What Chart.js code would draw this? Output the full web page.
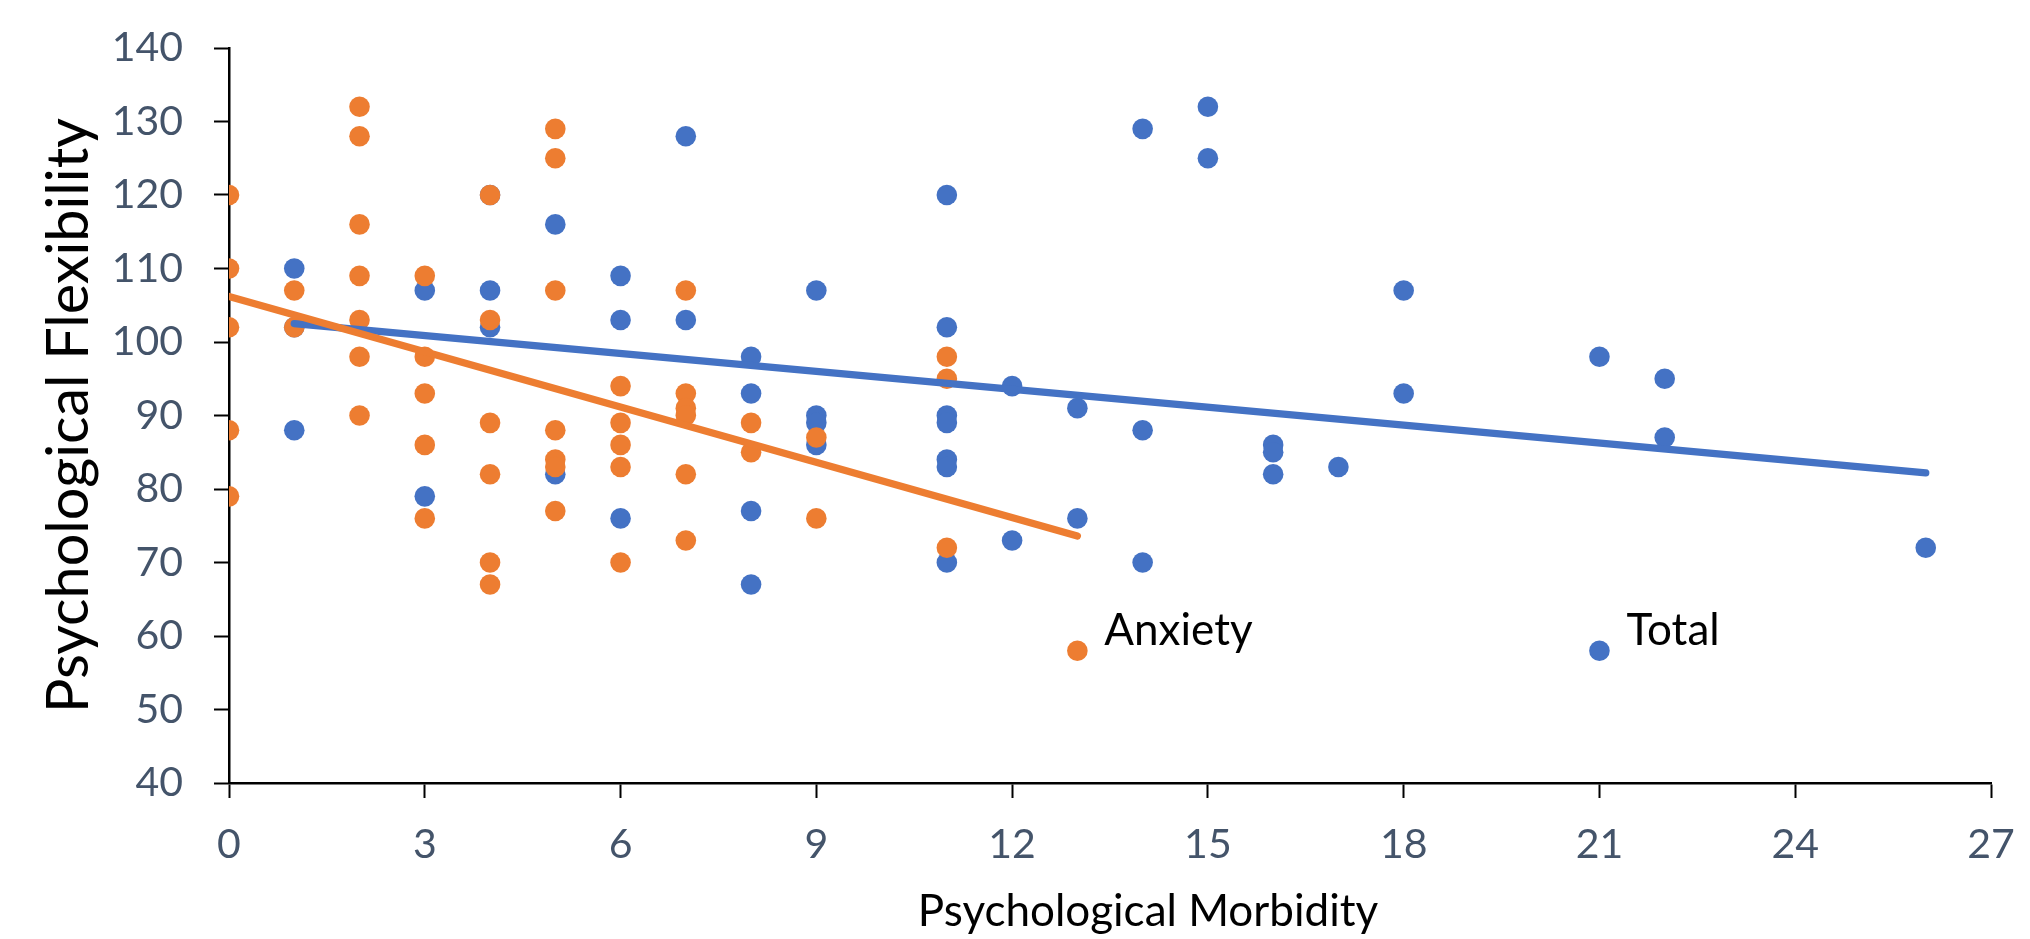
<!DOCTYPE html>
<html>
<head>
<meta charset="utf-8">
<script src="https://cdn.jsdelivr.net/npm/chart.js@4.4.1/dist/chart.umd.min.js"></script>
<style>
  html, body { margin: 0; padding: 0; background: #fff; }
  #wrap { width: 2030px; height: 939px; }
</style>
</head>
<body>
<div id="wrap"><canvas id="chart" width="2030" height="939"></canvas></div>
<script>
// Anxiety score (x) vs psychological flexibility (y)
const anxietyX = [0, 0, 0, 0, 0,
  1, 1,
  2, 2, 2, 2, 2, 2, 2,
  3, 3, 3, 3, 3,
  4, 4, 4, 4, 4, 4,
  5, 5, 5, 5, 5, 5, 5,
  6, 6, 6, 6, 6,
  7, 7, 7, 7, 7, 7,
  8, 8,
  9, 9,
  11, 11, 11,
  13];
const anxietyY = [120, 110, 102, 88, 79,
  107, 102,
  132, 128, 116, 109, 103, 98, 90,
  109, 98, 93, 86, 76,
  120, 103, 89, 82, 70, 67,
  129, 125, 107, 88, 84, 83, 77,
  94, 89, 86, 83, 70,
  107, 93, 91, 90, 82, 73,
  89, 85,
  87, 76,
  98, 95, 72,
  58];

// Total morbidity score (x) vs psychological flexibility (y)
const totalX = [1, 1, 1,
  3, 3,
  4, 4, 4,
  5, 5,
  6, 6, 6,
  7, 7,
  8, 8, 8, 8,
  9, 9, 9, 9,
  11, 11, 11, 11, 11, 11, 11,
  12, 12,
  13, 13,
  14, 14, 14,
  15, 15,
  16, 16, 16,
  17,
  18, 18,
  21, 22, 22,
  26,
  21];
const totalY = [110, 102, 88,
  107, 79,
  120, 107, 102,
  116, 82,
  109, 103, 76,
  128, 103,
  98, 93, 77, 67,
  107, 90, 89, 86,
  120, 102, 90, 89, 84, 83, 70,
  94, 73,
  91, 76,
  129, 88, 70,
  132, 125,
  86, 85, 82,
  83,
  107, 93,
  98, 95, 87,
  72,
  58];

// trend line end points
const anxietyTrendX = [0, 13];
const anxietyTrendY = [106.2, 73.6];
const totalTrendX = [1, 26];
const totalTrendY = [102.5, 82.2];

const xTicks = [0, 3, 6, 9, 12, 15, 18, 21, 24, 27];
const yTicks = [40, 50, 60, 70, 80, 90, 100, 110, 120, 130, 140];

const seriesNames = ['Anxiety', 'Total'];
const xTitle = 'Psychological Morbidity';
const yTitle = 'Psychological Flexibility';

const BLUE = '#4472C4';
const ORANGE = '#ED7D31';
const TICK_COLOR = '#44546A';
const FONT = 'Lato, Carlito, "Liberation Sans", sans-serif';

function toPoints(xs, ys) {
    return xs.map((x, i) => ({ x: x, y: ys[i] }));
}

// Draws the series name next to the last point of each scatter series,
// and the x axis title (which sits a bit right of centre in the original)
const chartText = {
    id: 'chartText',
    afterDatasetsDraw(chart) {
        const ctx = chart.ctx;
        ctx.save();
        ctx.fillStyle = '#000';
        ctx.font = '44px ' + FONT;
        ctx.textAlign = 'left';
        ctx.textBaseline = 'alphabetic';
        chart.data.datasets.forEach((ds, i) => {
            if (!ds.pointLabel) return;
            const meta = chart.getDatasetMeta(i);
            const pt = meta.data[meta.data.length - 1];
            ctx.fillText(ds.pointLabel, pt.x + 27, pt.y - 6);
        });

        const area = chart.chartArea;
        ctx.textAlign = 'center';
        ctx.textBaseline = 'middle';
        ctx.fillText(xTitle, (area.left + area.right) / 2 + 38, 912);
        ctx.restore();
    }
};

const ctx = document.getElementById('chart').getContext('2d');
const chart = new Chart(ctx, {
    type: 'scatter',
    data: {
        datasets: [
            {
                label: seriesNames[0] + ' trend',
                data: toPoints(anxietyTrendX, anxietyTrendY),
                showLine: true,
                borderColor: ORANGE,
                borderWidth: 7.3,
                borderCapStyle: 'round',
                pointRadius: 0,
                order: 0
            },
            {
                label: seriesNames[1] + ' trend',
                data: toPoints(totalTrendX, totalTrendY),
                showLine: true,
                borderColor: BLUE,
                borderWidth: 7.3,
                borderCapStyle: 'round',
                pointRadius: 0,
                order: 1
            },
            {
                label: seriesNames[0],
                pointLabel: seriesNames[0],
                data: toPoints(anxietyX, anxietyY),
                backgroundColor: ORANGE,
                borderWidth: 0,
                pointRadius: 10.3,
                order: 2
            },
            {
                label: seriesNames[1],
                pointLabel: seriesNames[1],
                data: toPoints(totalX, totalY),
                backgroundColor: BLUE,
                borderWidth: 0,
                pointRadius: 10.3,
                order: 3
            }
        ]
    },
    options: {
        responsive: false,
        animation: false,
        devicePixelRatio: 1,
        layout: { padding: { top: 48, right: 39, bottom: 0, left: 0 } },
        plugins: {
            legend: { display: false },
            tooltip: { enabled: false }
        },
        scales: {
            x: {
                type: 'linear',
                min: 0,
                max: 27,
                afterBuildTicks: (scale) => { scale.ticks = xTicks.map(v => ({ value: v })); },
                afterFit: (scale) => {
                    scale.height = 156;
                    // tick padding would otherwise push the plot edges inwards
                    scale.paddingLeft = 0;
                    scale.paddingRight = 0;
                },
                ticks: { color: TICK_COLOR, font: { family: FONT, size: 41 }, padding: 22 },
                grid: { drawOnChartArea: false, drawTicks: true, tickLength: 15, tickColor: '#000', tickWidth: 2 },
                border: { display: true, color: '#000', width: 2.5 }
            },
            y: {
                type: 'linear',
                min: 40,
                max: 140,
                afterBuildTicks: (scale) => { scale.ticks = yTicks.map(v => ({ value: v })); },
                afterFit: (scale) => {
                    scale.width = 229;
                    scale.paddingTop = 0;
                    scale.paddingBottom = 0;
                },
                ticks: { color: TICK_COLOR, font: { family: FONT, size: 41 }, padding: 31 },
                grid: { drawOnChartArea: false, drawTicks: true, tickLength: 15, tickColor: '#000', tickWidth: 2 },
                border: { display: true, color: '#000', width: 2.5 },
                title: {
                    display: true,
                    text: yTitle,
                    color: '#000',
                    font: { family: FONT, size: 57.5 },
                    padding: { top: 35, bottom: 0 }
                }
            }
        }
    },
    plugins: [chartText]
});
</script>
</body>
</html>
